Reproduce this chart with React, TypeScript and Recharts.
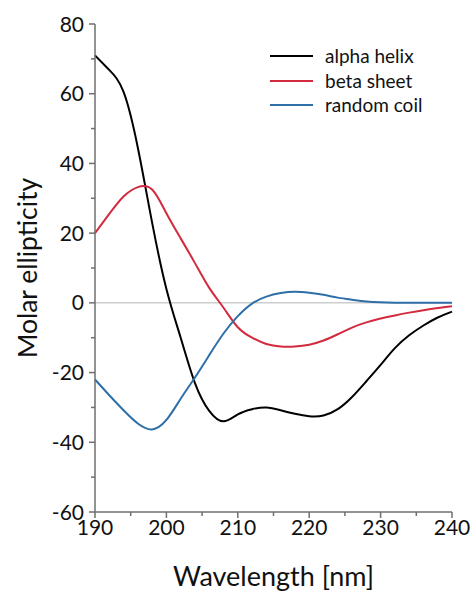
import { LineChart, Line, XAxis, YAxis, ReferenceLine, Legend } from 'recharts';

const FONT = 'Lato, "Open Sans", sans-serif';
const AXIS = '#6f6f6f';

// CD spectra, sampled every 2 nm
const wavelength = [
  190, 192, 194, 196, 198, 200, 202, 204, 206, 208, 210, 212, 214,
  216, 218, 220, 222, 224, 226, 228, 230, 232, 234, 236, 238, 240,
];
const alphaHelix = [
  71, 66.8, 60.5, 44.5, 23, 4, -10, -23, -31, -34, -32, -30.5, -30,
  -30.8, -31.8, -32.5, -32.3, -30.5, -27, -22.5, -17.8, -13, -9.3, -6.5, -4.2, -2.5,
];
const betaSheet = [
  20, 25.5, 30.5, 33.2, 32.5, 25.7, 18.5, 11.4, 4.3, -1.4, -7, -10, -11.8,
  -12.5, -12.5, -12, -10.8, -9, -7.1, -5.6, -4.5, -3.6, -2.8, -2.1, -1.5, -1,
];
const randomCoil = [
  -22, -26.5, -30.8, -34.6, -36.3, -33.6, -27.5, -21.4, -15, -8.8, -3.8, -0.2, 1.8,
  2.8, 3.2, 2.9, 2.3, 1.5, 0.9, 0.4, 0.15, 0.05, 0, 0, 0, 0,
];

const xTicks = [190, 195, 200, 205, 210, 215, 220, 225, 230, 235, 240];
const yTicks = [-60, -50, -40, -30, -20, -10, 0, 10, 20, 30, 40, 50, 60, 70, 80];

const series = [
  { key: 'alpha', name: 'alpha helix', color: '#000000' },
  { key: 'beta', name: 'beta sheet', color: '#d22b3f' },
  { key: 'coil', name: 'random coil', color: '#2e6fa9' },
];

const data = wavelength.map((w, i) => ({
  w,
  alpha: alphaHelix[i],
  beta: betaSheet[i],
  coil: randomCoil[i],
}));

// major ticks get a label and a longer mark, minor ticks only a short mark
function XTick({ x, y, payload }: any) {
  const major = payload.value % 10 === 0;
  return (
    <g>
      <line x1={x} y1={y} x2={x} y2={y + (major ? 6 : 4)} stroke={AXIS} strokeWidth={1.5} />
      {major && (
        <text x={x} y={y + 23} textAnchor="middle" fontSize={21} fontFamily={FONT} fill="#111">
          {payload.value}
        </text>
      )}
    </g>
  );
}

function YTick({ x, y, payload }: any) {
  const major = payload.value % 20 === 0;
  return (
    <g>
      <line x1={x - (major ? 6 : 4)} y1={y} x2={x} y2={y} stroke={AXIS} strokeWidth={1.5} />
      {major && (
        <text x={x - 11} y={y} dy="0.36em" textAnchor="end" fontSize={21} fontFamily={FONT} fill="#111">
          {payload.value}
        </text>
      )}
    </g>
  );
}

function KeyList({ payload }: any) {
  return (
    <div style={{ fontFamily: FONT, fontSize: 19, lineHeight: '24.5px', color: '#111' }}>
      {(payload || []).map((p: any) => (
        <div key={p.value} style={{ display: 'flex', alignItems: 'center', whiteSpace: 'nowrap' }}>
          <span style={{ display: 'inline-block', width: 43, height: 2, background: p.color, marginRight: 12 }} />
          {p.value}
        </div>
      ))}
    </div>
  );
}

export default function App() {
  return (
    <div style={{ position: 'absolute', left: 0, top: 0, background: '#fff' }}>
      <LineChart width={472} height={591} data={data} margin={{ top: 24, right: 20, bottom: 0, left: 0 }}>
        <XAxis
          dataKey="w"
          type="number"
          domain={[190, 240]}
          ticks={xTicks}
          interval={0}
          height={79}
          tickSize={0}
          tickMargin={0}
          tickLine={false}
          tick={<XTick />}
          axisLine={{ stroke: AXIS, strokeWidth: 1.5 }}
          label={{
            content: ({ viewBox }: any) => (
              <text
                x={viewBox.x + viewBox.width / 2}
                y={viewBox.y + 74}
                textAnchor="middle"
                fontSize={27}
                fontFamily={FONT}
                fill="#111"
              >
                Wavelength [nm]
              </text>
            ),
          }}
        />
        <XAxis
          xAxisId="top"
          orientation="top"
          dataKey="w"
          type="number"
          domain={[190, 240]}
          height={0}
          tick={false}
          tickLine={false}
          axisLine={{ stroke: AXIS, strokeWidth: 1.5 }}
        />
        <YAxis
          type="number"
          domain={[-60, 80]}
          ticks={yTicks}
          interval={0}
          width={95}
          tickSize={0}
          tickMargin={0}
          tickLine={false}
          tick={<YTick />}
          axisLine={{ stroke: AXIS, strokeWidth: 1.5 }}
          label={{
            content: ({ viewBox }: any) => {
              const cy = viewBox.y + viewBox.height / 2;
              return (
                <text
                  transform={`translate(37, ${cy}) rotate(-90)`}
                  textAnchor="middle"
                  fontSize={26.5}
                  fontFamily={FONT}
                  fill="#111"
                >
                  Molar ellipticity
                </text>
              );
            },
          }}
        />
        <YAxis
          yAxisId="right"
          orientation="right"
          type="number"
          domain={[-60, 80]}
          width={0}
          tick={false}
          tickLine={false}
          axisLine={{ stroke: AXIS, strokeWidth: 1.5 }}
        />
        <ReferenceLine y={0} stroke="#b4b4b4" strokeWidth={1} />
        {series.map((s) => (
          <Line
            key={s.key}
            dataKey={s.key}
            name={s.name}
            type="natural"
            stroke={s.color}
            strokeWidth={2}
            dot={false}
            isAnimationActive={false}
          />
        ))}
        <Legend
          layout="horizontal"
          verticalAlign="middle"
          align="center"
          content={<KeyList />}
          wrapperStyle={{ top: 44, left: 270, width: 'auto', height: 'auto' }}
        />
      </LineChart>
    </div>
  );
}
